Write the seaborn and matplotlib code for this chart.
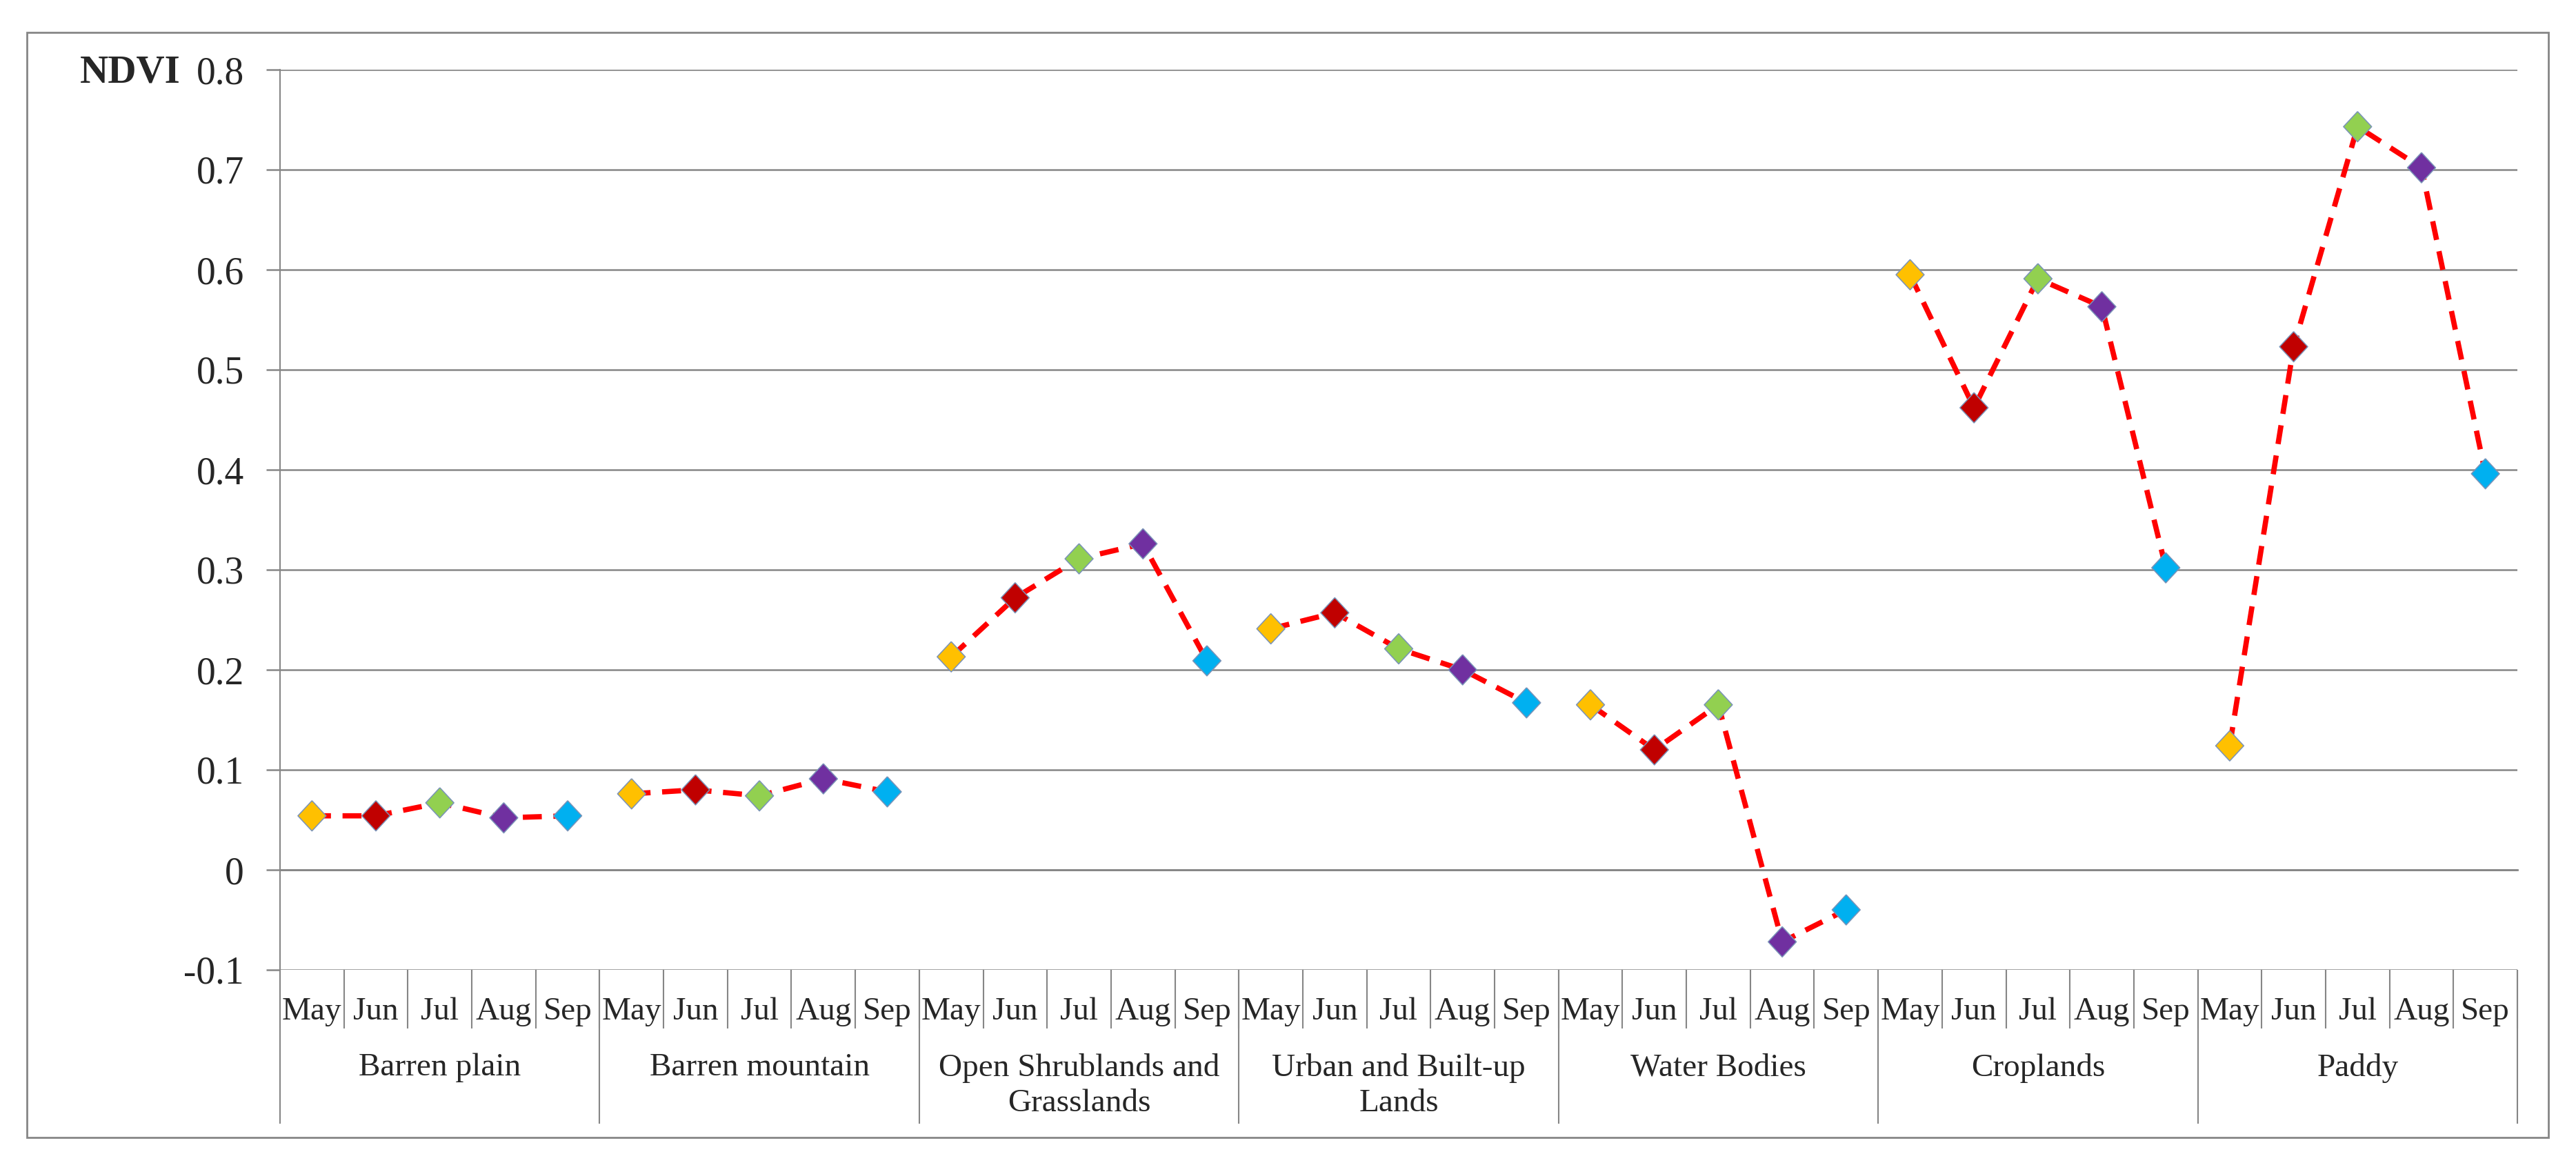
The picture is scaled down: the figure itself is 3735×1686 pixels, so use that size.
import pandas as pd
import matplotlib.pyplot as plt
import seaborn as sns
from matplotlib.patches import Rectangle
from matplotlib.ticker import FixedLocator

# NDVI by land-cover class and month
groups = ["Barren plain", "Barren mountain", "Open Shrublands and\nGrasslands",
          "Urban and Built-up\nLands", "Water Bodies", "Croplands", "Paddy"]
months = ["May", "Jun", "Jul", "Aug", "Sep"]
barren_plain = [0.054, 0.054, 0.067, 0.052, 0.054]
barren_mountain = [0.076, 0.080, 0.074, 0.091, 0.078]
open_shrub = [0.213, 0.272, 0.311, 0.326, 0.209]
urban = [0.241, 0.257, 0.221, 0.200, 0.167]
water = [0.165, 0.120, 0.165, -0.072, -0.040]
croplands = [0.595, 0.462, 0.591, 0.563, 0.302]
paddy = [0.124, 0.523, 0.743, 0.702, 0.396]
month_colors = {"May": "#FFC000", "Jun": "#C00000", "Jul": "#92D050",
                "Aug": "#7030A0", "Sep": "#00B0F0"}

series = [barren_plain, barren_mountain, open_shrub, urban, water, croplands, paddy]
rows = []
for g, (name, vals) in enumerate(zip(groups, series)):
    for m, (mon, v) in enumerate(zip(months, vals)):
        rows.append({"group": name, "month": mon, "pos": g * len(months) + m, "ndvi": v})
df = pd.DataFrame(rows)
n = len(df)

sns.set_style("white")
plt.rcParams['font.family'] = ['Liberation Serif', 'DejaVu Serif']
plt.rcParams['axes.unicode_minus'] = False

W, H = 3735, 1686
gray = "#868686"
fs = 34

fig = plt.figure(figsize=(W / 100, H / 100), dpi=100)
ax = fig.add_axes([406 / W, 280 / H, (3650 - 406) / W, 1305 / H])

sns.lineplot(data=df, x="pos", y="ndvi", units="group", estimator=None,
             color="#FF0000", linewidth=5.5, linestyle=(0, (3.6, 2.2)), ax=ax)
diamond = [(0, 1), (0.93, 0), (0, -1), (-0.93, 0), (0, 1)]
sns.scatterplot(data=df, x="pos", y="ndvi", hue="month", hue_order=months,
                palette=month_colors, marker=diamond, s=1000, edgecolor="#7a93b8",
                linewidth=1.1, legend=False, zorder=3, clip_on=False, ax=ax)

ax.set_xlim(-0.5, n - 0.5)
ax.set_ylim(-0.1, 0.8)
ax.set_yticks([-0.1, 0, 0.1, 0.2, 0.3, 0.4, 0.5, 0.6, 0.7, 0.8])
ax.set_yticklabels(["-0.1", "0", "0.1", "0.2", "0.3", "0.4", "0.5", "0.6", "0.7", "0.8"],
                   fontsize=40)
ax.set_axisbelow(True)
ax.yaxis.grid(True, color=gray, linewidth=1.8)
ax.xaxis.grid(False)
ax.set_xlabel("")
ax.set_ylabel("")

for s in ["top", "right"]:
    ax.spines[s].set_visible(False)
ax.spines["left"].set_color(gray)
ax.spines["left"].set_linewidth(1.5)
ax.spines["bottom"].set_position(("data", 0))
ax.spines["bottom"].set_color(gray)
ax.spines["bottom"].set_linewidth(2.0)

# x axis at zero: ticks up at categories, down at boundaries
ax.xaxis.set_major_locator(FixedLocator(list(range(n)) + [n - 0.5]))
ax.xaxis.set_minor_locator(FixedLocator([i - 0.5 for i in range(n + 1)]))
ax.tick_params(axis="x", which="major", direction="in", length=8.6, width=1.5,
               color=gray, labelbottom=False)
ax.tick_params(axis="x", which="minor", direction="out", length=10, width=1.5,
               color=gray)
ax.tick_params(axis="y", direction="out", length=14.4, width=1.8, color=gray,
               pad=23, left=True)

# category table below the plot
trans = ax.get_xaxis_transform()
bounds = [i - 0.5 for i in range(n + 1)]
ax.vlines(bounds, -0.0652, 0, transform=trans, colors=gray, linewidth=1.5, clip_on=False)
gb = [i * len(months) - 0.5 for i in range(len(groups) + 1)]
ax.vlines(gb, -0.171, 0, transform=trans, colors=gray, linewidth=1.5, clip_on=False)
for p, mon in zip(df["pos"], df["month"]):
    ax.text(p, -0.055, mon, transform=trans, ha="center", va="baseline", fontsize=fs)
for g, name in enumerate(groups):
    ax.text(g * len(months) + 2, -0.0925, name, transform=trans, ha="center",
            va="top", fontsize=fs, linespacing=1.27)

fig.text(262 / W, (H - 119) / H, "NDVI", ha="right", va="baseline",
         fontsize=41, fontweight="bold")

fig.add_artist(Rectangle((39 / W, (H - 1649) / H), (3695 - 39) / W, (1649 - 47) / H,
                         transform=fig.transFigure, fill=False, edgecolor=gray,
                         linewidth=2.0))

fig.savefig("out.png", dpi=100)
plt.close(fig)
